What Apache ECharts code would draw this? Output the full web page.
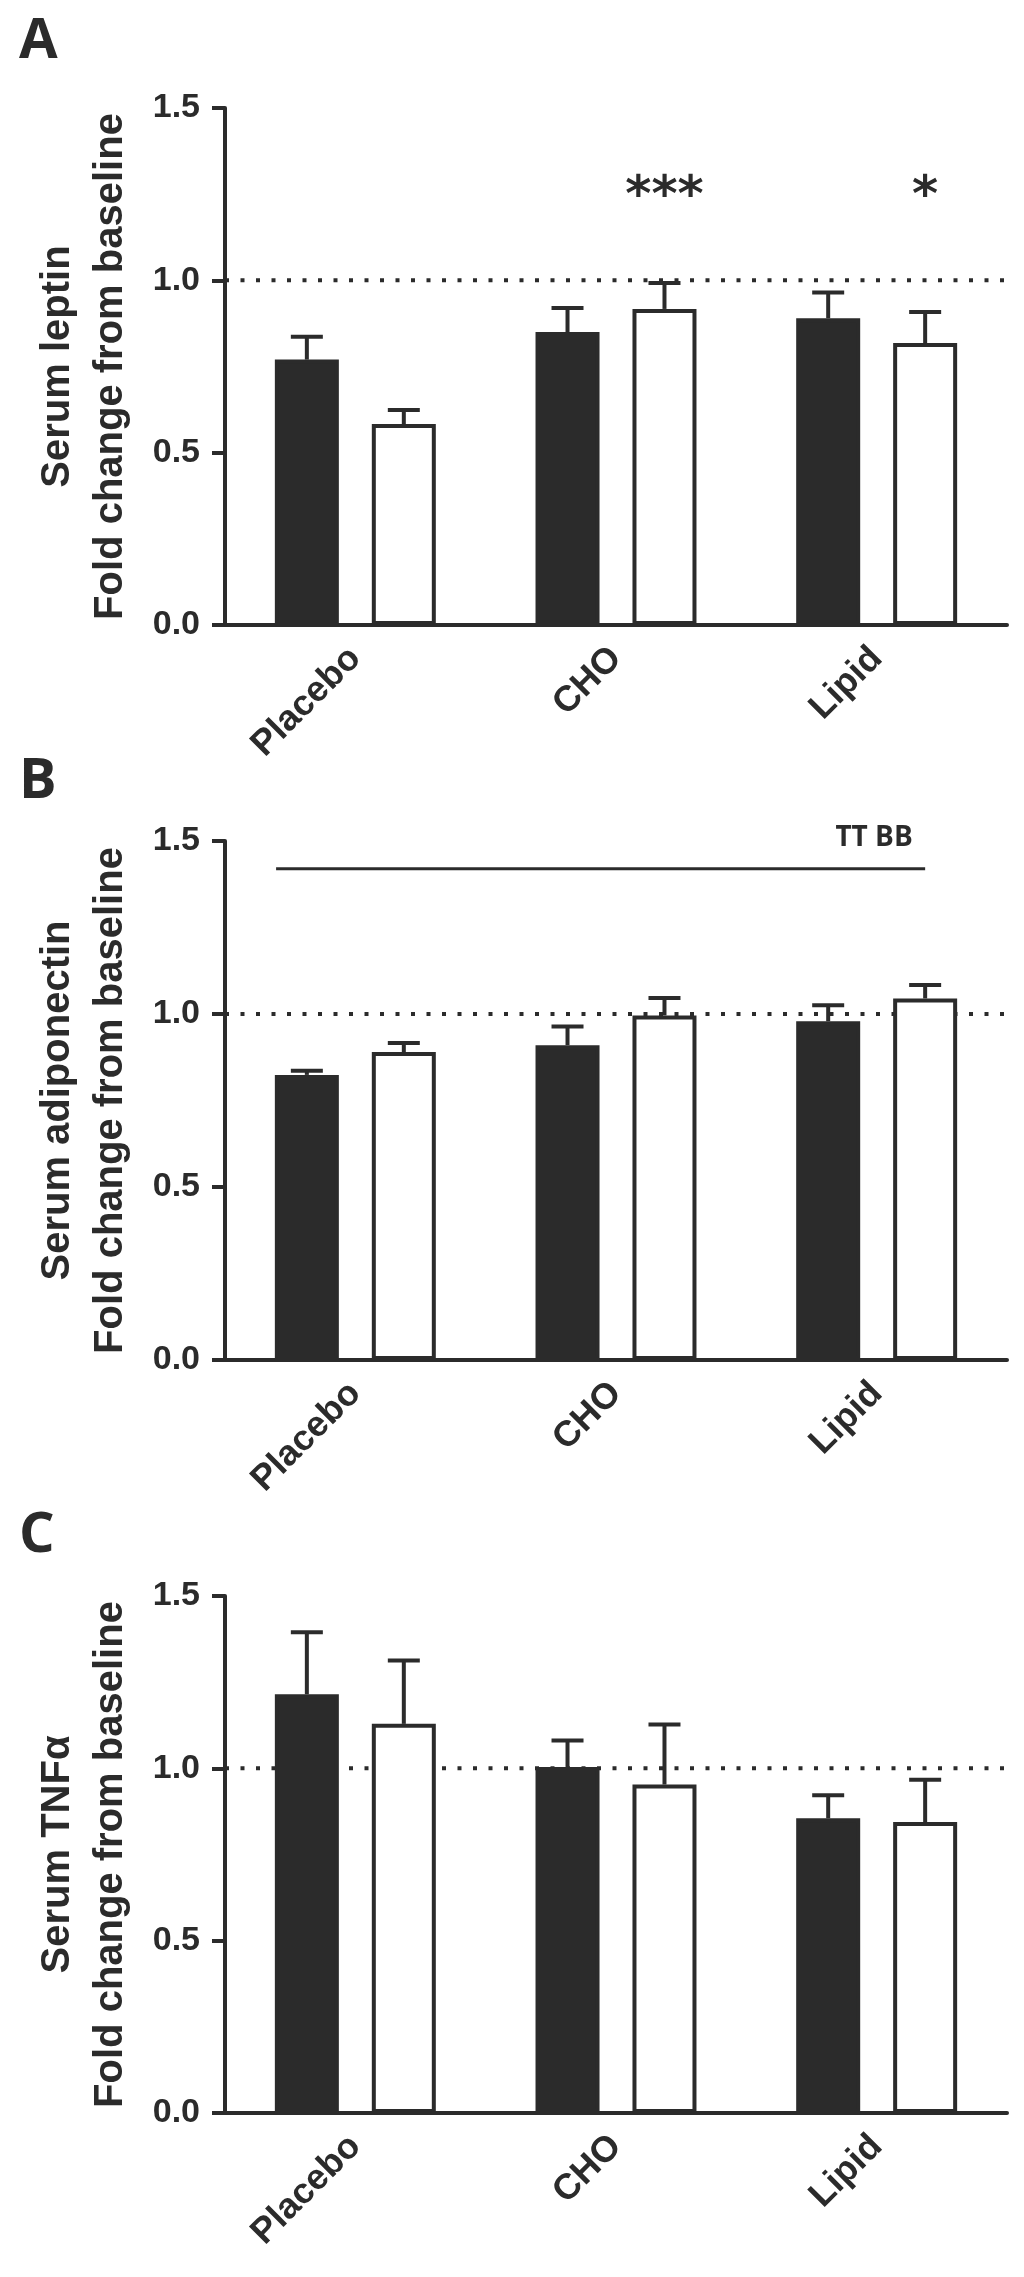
<!DOCTYPE html>
<html>
<head>
<meta charset="utf-8">
<script src="https://cdn.jsdelivr.net/npm/echarts@6/dist/echarts.min.js"></script>
<style>
html, body { margin: 0; padding: 0; background: #fff; }
#chart { width: 1024px; height: 2277px; }
</style>
</head>
<body>
<div id="chart"></div>
<script>
// categories and axis
var categories = ['Placebo', 'CHO', 'Lipid'];
var yMin = 0, yMax = 1.5, yStep = 0.5;
var baseline = 1.0;

// A - serum leptin (filled / open bars, upper SEM)
var leptinFilled = [0.77, 0.85, 0.89];
var leptinFilledErr = [0.066, 0.07, 0.075];
var leptinOpen = [0.583, 0.917, 0.818];
var leptinOpenErr = [0.041, 0.075, 0.09];
var leptinStars = ['', '***', '*'];
var leptinStarY = 1.24;

// B - serum adiponectin
var adipoFilled = [0.824, 0.91, 0.979];
var adipoFilledErr = [0.012, 0.054, 0.046];
var adipoOpen = [0.89, 0.996, 1.045];
var adipoOpenErr = [0.026, 0.05, 0.039];
var adipoBracketY = 1.42;
var adipoBracketText = 'TT BB';
var adipoBracketTextY = 1.51;

// C - serum TNFa
var tnfFilled = [1.215, 1.004, 0.855];
var tnfFilledErr = [0.18, 0.077, 0.067];
var tnfOpen = [1.129, 0.953, 0.844];
var tnfOpenErr = [0.184, 0.174, 0.123];

var panelLetters = ['A', 'B', 'C'];
var yTitles = [
  'Serum leptin\nFold change from baseline',
  'Serum adiponectin\nFold change from baseline',
  'Serum TNF\u03b1\nFold change from baseline'
];

// layout
var INK = '#2b2b2b';
var gridTop = [108, 841, 1596];
var gridHeight = [517, 519, 517];
var gridLeft = 225, gridWidth = 782;
var barW = 64;
var barOff = 0.186;          // bar centre offset, in category units
var letterTop = [9, 749, 1503];

var filled = [leptinFilled, adipoFilled, tnfFilled];
var filledErr = [leptinFilledErr, adipoFilledErr, tnfFilledErr];
var open = [leptinOpen, adipoOpen, tnfOpen];
var openErr = [leptinOpenErr, adipoOpenErr, tnfOpenErr];

function errData(means, errs, off) {
  return means.map(function (m, i) { return [i + off, m, m + errs[i]]; });
}

function renderErr(params, api) {
  var p0 = api.coord([api.value(0), api.value(1)]);
  var p1 = api.coord([api.value(0), api.value(2)]);
  var st = { stroke: INK, lineWidth: 4 };
  return {
    type: 'group',
    children: [
      { type: 'line', shape: { x1: p0[0], y1: p0[1], x2: p1[0], y2: p1[1] }, style: st },
      { type: 'line', shape: { x1: p1[0] - 16, y1: p1[1], x2: p1[0] + 16, y2: p1[1] }, style: st }
    ]
  };
}

var grids = [], xAxes = [], yAxes = [], series = [], titles = [];

for (var k = 0; k < 3; k++) {
  grids.push({ left: gridLeft, width: gridWidth, top: gridTop[k], height: gridHeight[k] });
  titles.push({
    text: panelLetters[k], left: 14, top: letterTop[k],
    textStyle: { fontFamily: 'Open Sans', fontWeight: 'bold', fontSize: 56, color: INK }
  });
  xAxes.push({
    type: 'category', gridIndex: k, data: categories,
    axisLine: { onZero: false, lineStyle: { color: INK, width: 4 } },
    axisTick: { alignWithLabel: true, length: 15, lineStyle: { color: INK, width: 4 } },
    axisLabel: {
      rotate: 45, margin: 28, color: INK, fontSize: 36, fontWeight: 'bold',
      fontFamily: 'Liberation Sans'
    },
    splitLine: { show: false }
  });
  xAxes.push({ type: 'value', gridIndex: k, min: -0.5, max: 2.5, show: false });
  yAxes.push({
    type: 'value', gridIndex: k, min: yMin, max: yMax, interval: yStep,
    name: yTitles[k], nameLocation: 'middle', nameGap: 88, nameRotate: 90,
    nameTextStyle: {
      fontFamily: 'Liberation Sans', fontWeight: 'bold', fontSize: 40, color: INK, lineHeight: 53
    },
    axisLine: { show: true, onZero: false, lineStyle: { color: INK, width: 4 } },
    axisTick: { show: true, length: 13, lineStyle: { color: INK, width: 4 } },
    axisLabel: {
      margin: 25, color: INK, fontSize: 34, fontWeight: 'bold', fontFamily: 'Liberation Sans',
      formatter: function (v) { return v.toFixed(1); }
    },
    splitLine: { show: false }
  });

  // dotted baseline behind bars
  series.push({
    type: 'line', xAxisIndex: 2 * k + 1, yAxisIndex: k, z: 1, silent: true,
    symbol: 'none', data: [[-0.5, baseline], [2.5, baseline]],
    lineStyle: { color: INK, width: 4, type: [4, 11.5] }
  });
  series.push({
    type: 'bar', xAxisIndex: 2 * k, yAxisIndex: k, z: 2, data: filled[k],
    barWidth: barW, barGap: '51.5%',
    itemStyle: { color: INK, borderColor: INK, borderWidth: 4 }
  });
  series.push({
    type: 'bar', xAxisIndex: 2 * k, yAxisIndex: k, z: 2, data: open[k],
    barWidth: barW, barGap: '51.5%',
    itemStyle: { color: '#fff', borderColor: INK, borderWidth: 4 }
  });
  series.push({
    type: 'custom', xAxisIndex: 2 * k + 1, yAxisIndex: k, z: 3,
    data: errData(filled[k], filledErr[k], -barOff), renderItem: renderErr
  });
  series.push({
    type: 'custom', xAxisIndex: 2 * k + 1, yAxisIndex: k, z: 3,
    data: errData(open[k], openErr[k], barOff), renderItem: renderErr
  });
}

// significance stars, panel A
var starItems = [];
leptinStars.forEach(function (s, i) { if (s) starItems.push([i + barOff, leptinStarY, i]); });
series.push({
  type: 'custom', xAxisIndex: 1, yAxisIndex: 0, z: 4, data: starItems,
  renderItem: function (params, api) {
    var p = api.coord([api.value(0), api.value(1)]);
    return {
      type: 'text',
      style: {
        text: leptinStars[api.value(2)], x: p[0], y: p[1], align: 'center', verticalAlign: 'middle',
        fontFamily: 'DejaVu Sans', fontWeight: 'bold', fontSize: 50, fill: INK
      }
    };
  }
});

// bracket line and text, panel B
series.push({
  type: 'custom', xAxisIndex: 3, yAxisIndex: 1, z: 4,
  data: [[-0.304, 2.186, adipoBracketY, 1.99, adipoBracketTextY]],
  renderItem: function (params, api) {
    var a = api.coord([api.value(0), api.value(2)]);
    var b = api.coord([api.value(1), api.value(2)]);
    var t = api.coord([api.value(3), api.value(4)]);
    return {
      type: 'group',
      children: [
        { type: 'line', shape: { x1: a[0], y1: a[1], x2: b[0], y2: b[1] }, style: { stroke: INK, lineWidth: 3 } },
        {
          type: 'text',
          style: {
            text: adipoBracketText, x: t[0], y: t[1], align: 'center', verticalAlign: 'middle',
            fontFamily: 'Open Sans', fontWeight: 'bold', fontSize: 28, fill: INK
          }
        }
      ]
    };
  }
});

var chart = echarts.init(document.getElementById('chart'));
chart.setOption({
  animation: false,
  backgroundColor: '#fff',
  title: titles,
  grid: grids,
  xAxis: xAxes,
  yAxis: yAxes,
  series: series
});
</script>
</body>
</html>
